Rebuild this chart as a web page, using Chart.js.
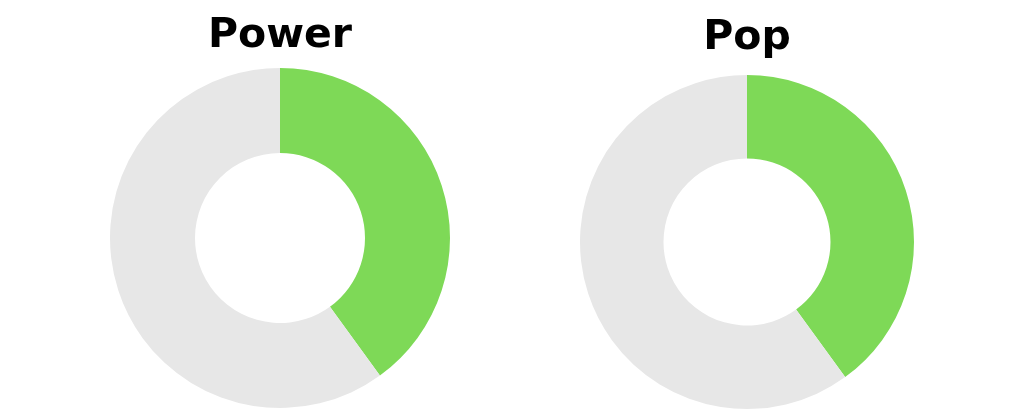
<!DOCTYPE html>
<html>
<head>
<meta charset="utf-8">
<script src="https://cdn.jsdelivr.net/npm/chart.js@4/dist/chart.umd.min.js"></script>
<style>
  html, body { margin: 0; padding: 0; background: #fff; }
  body { width: 1024px; height: 416px; position: relative; overflow: hidden; }
  .box { position: absolute; top: 0; width: 440px; height: 416px; }
  #boxPower { left: 60px; }
  #boxPop { left: 527px; }
</style>
</head>
<body>
<div class="box" id="boxPower"><canvas id="powerChart" width="440" height="416"></canvas></div>
<div class="box" id="boxPop"><canvas id="popChart" width="440" height="416"></canvas></div>
<script>
// values (green share first, grey rest second)
const segmentLabels = ['Score', 'Rest'];
const powerValues = [40, 60];
const popValues = [40, 60];
const chartTitles = ['Power', 'Pop'];
const segmentColors = ['#7ed957', '#e7e7e7'];

function makeDonut(canvasId, title, values, pad, titleGap) {
    const ctx = document.getElementById(canvasId).getContext('2d');
    return new Chart(ctx, {
        type: 'doughnut',
        data: {
            labels: segmentLabels,
            datasets: [{
                data: values,
                backgroundColor: segmentColors,
                borderWidth: 0
            }]
        },
        options: {
            responsive: false,
            animation: false,
            cutout: '50%',
            layout: { padding: pad },
            plugins: {
                legend: { display: false },
                tooltip: { enabled: false },
                title: {
                    display: true,
                    text: title,
                    color: '#000000',
                    font: { family: 'DejaVu Sans', weight: 'bold', size: 41, lineHeight: 1.2 },
                    padding: { top: 0, bottom: titleGap }
                }
            }
        }
    });
}

// title box is 41 * 1.2 = 49.2px tall; ring area starts at y=68 (left) and y=75 (right)
makeDonut('powerChart', chartTitles[0], powerValues, { top: 12, bottom: 8, left: 0, right: 0 }, 6.8);
makeDonut('popChart', chartTitles[1], popValues, { top: 14, bottom: 7, left: 0, right: 0 }, 11.8);
</script>
</body>
</html>
